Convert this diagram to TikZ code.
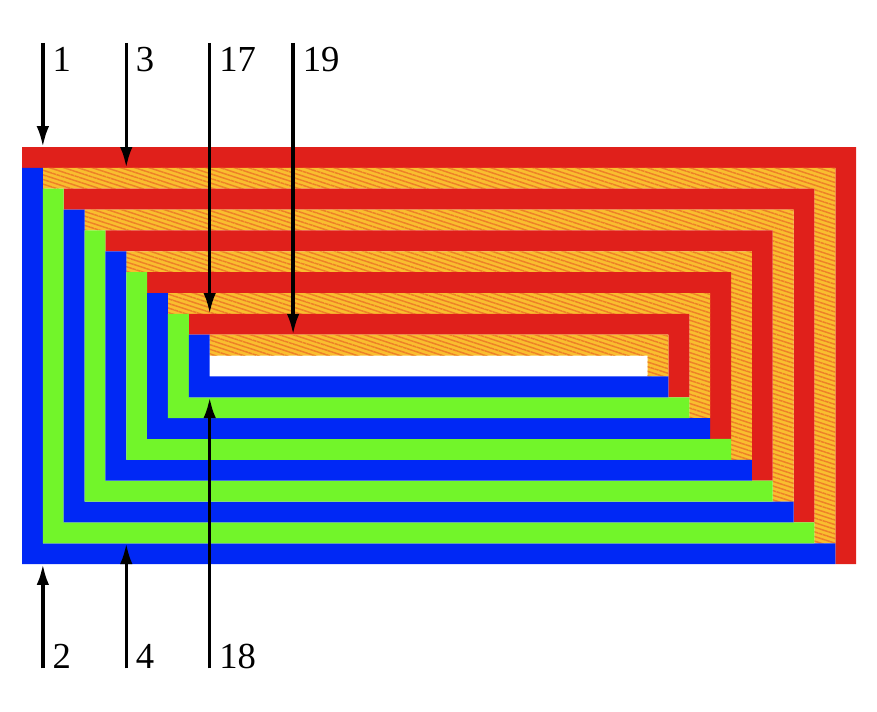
\documentclass[tikz,border=0pt]{standalone}
\usepackage{fontspec}
\setmainfont{Liberation Serif}
\usetikzlibrary{arrows.meta,patterns.meta}
\definecolor{stripred}{RGB}{224,32,27}
\definecolor{stripblue}{RGB}{0,40,245}
\definecolor{stripgreen}{RGB}{114,245,42}
\definecolor{stripyellow}{RGB}{249,190,47}
\definecolor{striporange}{RGB}{238,128,40}
\tikzset{
  top0/.style={fill=stripred},
  top1/.style={fill=stripyellow, postaction={pattern={Lines[angle=-18,distance=3pt,line width=1pt]}, pattern color=striporange}},
  bot0/.style={fill=stripblue},
  bot1/.style={fill=stripgreen},
  arr/.style={line width=2.3pt, -{Latex[length=0.5cm,width=0.3cm]}},
  lab/.style={anchor=base west, inner sep=0pt, font=\fontsize{25}{30}\selectfont}
}
\begin{document}
\begin{tikzpicture}[x=0.5cm, y=-0.5cm]
    \useasboundingbox (-1.055,-7.05) rectangle (41.0,27.05);
    % top-right strips: 1, 3, ..., 19
    \foreach \a [evaluate=\a as \r using {int(mod(\a,2))}] in {0,...,9}
        \path[top\r] (\a,\a) -- (40-\a,\a) -- (40-\a,20-\a) -- (39-\a,20-\a)
            -- (39-\a,\a+1) -- (\a,\a+1) -- cycle;
    % bottom-left strips: 2, 4, ..., 18
    \foreach \a [evaluate=\a as \r using {int(mod(\a,2))}] in {0,...,8}
        \path[bot\r] (\a,\a+1) -- (\a+1,\a+1) -- (\a+1,19-\a) -- (39-\a,19-\a)
            -- (39-\a,20-\a) -- (\a,20-\a) -- cycle;

    % arrows from above
    \foreach \x/\y/\n in {1/0/1, 5/1/3, 9/8/17, 13/9/19} {
        \coordinate (t\n) at (\x,-5);
        \coordinate (e\n) at (\x,\y);
        \node[lab] (l\n) at (\x+0.45,-3.6) {\n};
        \draw[arr] (t\n) -- (e\n);
    }
    % arrows from below
    \foreach \x/\y/\n in {1/20/2, 5/19/4, 9/12/18} {
        \coordinate (t\n) at (\x,25);
        \coordinate (e\n) at (\x,\y);
        \node[lab] (l\n) at (\x+0.45,25) {\n};
        \draw[arr] (t\n) -- (e\n);
    }
\end{tikzpicture}
\end{document}
